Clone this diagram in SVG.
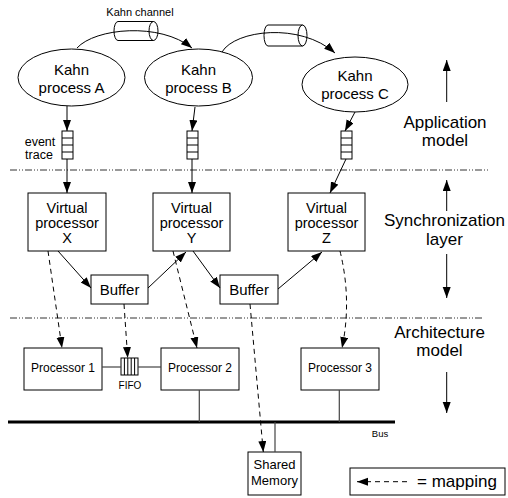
<svg xmlns="http://www.w3.org/2000/svg" width="508" height="498" viewBox="0 0 508 498">
<style>
text{font-family:"Liberation Sans",Arial,sans-serif;fill:#000}
.box{fill:#fff;stroke:#000;stroke-width:1}
.ln{fill:none;stroke:#000;stroke-width:1}
.gl{fill:none;stroke:#444;stroke-width:1.2}
.dash{fill:none;stroke:#000;stroke-width:1;stroke-dasharray:5,4}
.sep{fill:none;stroke:#333;stroke-width:1;stroke-dasharray:7,2,1,2,1,2}
.t15{font-size:15px;text-anchor:middle}
.vp{font-size:14.5px;text-anchor:middle}
.t17{font-size:17px;text-anchor:middle}
.t12{font-size:12px;text-anchor:middle}
</style>
<defs>
<marker id="ah" markerUnits="userSpaceOnUse" markerWidth="12" markerHeight="10" refX="11" refY="4" orient="auto">
<path d="M0,0 L11,4 L0,8 Z" fill="#000"/>
</marker>
</defs>

<g id="separators">
<line class="sep" x1="10" y1="170" x2="488" y2="170"/>
<line class="sep" x1="10" y1="318" x2="483" y2="318"/>
</g>

<g id="labels-right">
<text class="t17" x="445" y="128">Application</text>
<text class="t17" x="445" y="146">model</text>
<text class="t17" x="444.5" y="226">Synchronization</text>
<text class="t17" x="444.5" y="245">layer</text>
<text class="t17" x="439.5" y="338">Architecture</text>
<text class="t17" x="439.5" y="356">model</text>
<line class="ln" x1="446.7" y1="102" x2="446.7" y2="60" marker-end="url(#ah)"/>
<line class="ln" x1="446.7" y1="211" x2="446.7" y2="180" marker-end="url(#ah)"/>
<line class="ln" x1="446.7" y1="254" x2="446.7" y2="298" marker-end="url(#ah)"/>
<line class="ln" x1="446.7" y1="372" x2="446.7" y2="413" marker-end="url(#ah)"/>
</g>

<g id="kahnA">
<ellipse class="box" cx="71.5" cy="77.5" rx="53.5" ry="28.5"/>
<text class="t15" x="71.5" y="75">Kahn</text>
<text class="t15" x="71.5" y="93">process A</text>
</g>
<g id="kahnB">
<ellipse class="box" cx="198.5" cy="77.5" rx="54" ry="28.5"/>
<text class="t15" x="198.5" y="75">Kahn</text>
<text class="t15" x="198.5" y="93">process B</text>
</g>
<g id="kahnC">
<ellipse class="box" cx="355" cy="84.5" rx="53" ry="27.5"/>
<text class="t15" x="355" y="81">Kahn</text>
<text class="t15" x="355" y="99">process C</text>
</g>

<g id="channel1">
<text x="140" y="16" style="font-size:11px;text-anchor:middle">Kahn channel</text>
<path class="ln" d="M153.5,21.5 H118 A4,9.5 0 0 0 118,40.5 H153.5"/>
<ellipse class="ln" cx="153.5" cy="31" rx="4.5" ry="9.5"/>
</g>
<g id="channel2">
<path class="ln" d="M302.5,25 H268 A4,10.5 0 0 0 268,46 H302.5"/>
<ellipse class="ln" cx="302.5" cy="35.5" rx="4.5" ry="10.5"/>
</g>

<g id="traceA">
<rect class="box" x="62" y="131" width="11" height="28"/>
<path class="ln" d="M62,138 H73 M62,145 H73 M62,152 H73"/>
<text x="40" y="146" style="font-size:12.5px;text-anchor:middle">event</text>
<text x="39" y="159" style="font-size:12.5px;text-anchor:middle">trace</text>
</g>
<g id="traceB">
<rect class="box" x="187" y="131" width="11" height="28"/>
<path class="ln" d="M187,138 H198 M187,145 H198 M187,152 H198"/>
</g>
<g id="traceC">
<rect class="box" x="341" y="131" width="11" height="28"/>
<path class="ln" d="M341,138 H352 M341,145 H352 M341,152 H352"/>
</g>

<g id="vpX">
<rect class="box" x="28" y="193" width="78" height="58"/>
<text class="vp" x="67" y="213">Virtual</text>
<text class="vp" x="67" y="228">processor</text>
<text class="vp" x="67" y="243">X</text>
</g>
<g id="vpY">
<rect class="box" x="153" y="193" width="77" height="58"/>
<text class="vp" x="191.5" y="213">Virtual</text>
<text class="vp" x="191.5" y="228">processor</text>
<text class="vp" x="191.5" y="243">Y</text>
</g>
<g id="vpZ">
<rect class="box" x="288" y="193" width="77" height="58"/>
<text class="vp" x="326.5" y="213">Virtual</text>
<text class="vp" x="326.5" y="228">processor</text>
<text class="vp" x="326.5" y="243">Z</text>
</g>

<g id="buffer1">
<rect class="box" x="91" y="275" width="57" height="29"/>
<text class="t15" x="119.5" y="295">Buffer</text>
</g>
<g id="buffer2">
<rect class="box" x="220" y="275" width="58" height="29"/>
<text class="t15" x="249" y="295">Buffer</text>
</g>

<g id="proc1">
<rect class="box" x="24" y="348" width="78" height="42"/>
<text class="t12" x="63" y="372">Processor 1</text>
</g>
<g id="proc2">
<rect class="box" x="161" y="348" width="78" height="42"/>
<text class="t12" x="200" y="372">Processor 2</text>
</g>
<g id="proc3">
<rect class="box" x="301" y="348" width="78" height="42"/>
<text class="t12" x="340" y="372">Processor 3</text>
</g>

<g id="fifo">
<rect class="box" x="121" y="358" width="17" height="17"/>
<path class="ln" d="M124.4,358 V375 M127.8,358 V375 M131.2,358 V375 M134.6,358 V375"/>
<text x="130" y="389" style="font-size:10px;text-anchor:middle">FIFO</text>
</g>

<g id="bus">
<line x1="8" y1="422" x2="395" y2="422" stroke="#000" stroke-width="3"/>
<text x="380" y="437" style="font-size:9.5px;text-anchor:middle">Bus</text>
</g>

<g id="sharedMemory">
<rect class="box" x="248" y="452" width="53" height="43"/>
<text x="274.5" y="469" style="font-size:13px;text-anchor:middle">Shared</text>
<text x="274.5" y="485" style="font-size:13px;text-anchor:middle">Memory</text>
</g>

<g id="legend">
<rect class="box" x="350" y="468" width="155" height="27"/>
<line class="dash" x1="407" y1="481.7" x2="357" y2="481.7" marker-end="url(#ah)"/>
<text x="417" y="487" style="font-size:17px">= mapping</text>
</g>

<g id="connectors">
<path class="ln" d="M77,48 C95,28 160,22 192,48" marker-end="url(#ah)"/>
<path class="ln" d="M222,52 C235,30 300,22 335,53" marker-end="url(#ah)"/>
<line class="ln" x1="67" y1="106" x2="67" y2="131" marker-end="url(#ah)"/>
<line class="ln" x1="195" y1="107" x2="192" y2="131" marker-end="url(#ah)"/>
<line class="ln" x1="355" y1="112" x2="345" y2="131" marker-end="url(#ah)"/>
<line class="ln" x1="67" y1="159" x2="67" y2="193" marker-end="url(#ah)"/>
<line class="ln" x1="192" y1="159" x2="192" y2="193" marker-end="url(#ah)"/>
<line class="ln" x1="346" y1="159" x2="330" y2="193" marker-end="url(#ah)"/>
<line class="ln" x1="58" y1="251" x2="91" y2="288" marker-end="url(#ah)"/>
<line class="ln" x1="148" y1="288" x2="186" y2="252" marker-end="url(#ah)"/>
<line class="ln" x1="193" y1="251" x2="220" y2="288" marker-end="url(#ah)"/>
<line class="ln" x1="278" y1="289" x2="322" y2="252" marker-end="url(#ah)"/>
<path class="dash" d="M48,251 L62,348" marker-end="url(#ah)"/>
<path class="dash" d="M124,304 L127.7,358" marker-end="url(#ah)"/>
<path class="dash" d="M173,251 L197,348" marker-end="url(#ah)"/>
<path class="dash" d="M250,304 L263.3,452" marker-end="url(#ah)"/>
<path class="dash" d="M340,251 Q352,300 342,348" marker-end="url(#ah)"/>
<line class="gl" x1="102" y1="367" x2="121" y2="367"/>
<line class="gl" x1="138" y1="367" x2="161" y2="367"/>
<line class="gl" x1="199.3" y1="390" x2="199.3" y2="422"/>
<line class="gl" x1="339.3" y1="390" x2="339.3" y2="422"/>
<line class="gl" x1="275" y1="422" x2="275" y2="452"/>
</g>
</svg>
